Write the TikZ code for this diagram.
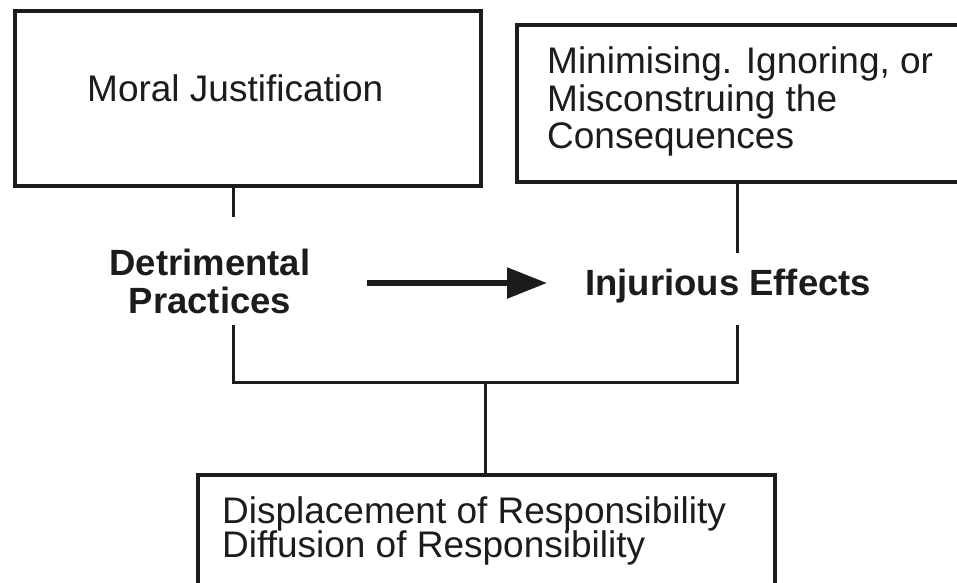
\documentclass[tikz,border=0pt]{standalone}
\usepackage{fontspec}
\setmainfont{Liberation Sans}
\usetikzlibrary{arrows.meta}
\definecolor{ink}{HTML}{1C1C1C}
\tikzset{
  box/.style={draw=ink, line width=4pt, fill=white, inner sep=0pt, anchor=north west},
  txt/.style={inner sep=0pt, anchor=base west, text=ink, font=\fontsize{37}{37}\selectfont},
  btxt/.style={inner sep=0pt, anchor=base, text=ink, font=\fontsize{36.5}{37}\selectfont\bfseries},
  conn/.style={draw=ink, line width=3pt},
  arr/.style={draw=ink, line width=5.5pt, -{Triangle[length=40pt, width=30pt]}}
}
\begin{document}
\begin{tikzpicture}[x=1pt, y=-1pt]
\clip (0,0) rectangle (957,582);
\fill[white] (0,0) rectangle (957,582);
\useasboundingbox (0,0) rectangle (957,582);

% boxes
\node[box, minimum width=466pt, minimum height=175pt] (mj) at (13,9) {};
\node[box, minimum width=460pt, minimum height=157pt] (mc) at (515,23) {};
\node[box, minimum width=577pt, minimum height=110pt] (dr) at (196,473) {};

% box texts
\node[txt] (mjt) at (87,101) {Moral Justification};
\node[txt] (mct1) at (547,73) {Minimising. Ignoring, or};
\node[txt] (mct2) at (547,111) {Misconstruing the};
\node[txt] (mct3) at (547,148) {Consequences};
\node[txt] (drt1) at (222,523) {Displacement of Responsibility};
\node[txt] (drt2) at (222,557) {Diffusion of Responsibility};

% bold labels
\node[btxt] (dp1) at (210,275) {Detrimental};
\node[btxt] (dp2) at (210,313) {Practices};
\node[btxt, anchor=base west] (ie) at (585,295) {Injurious Effects};

% connector points
\coordinate (tl) at (233,217);
\coordinate (tr) at (737,253);
\coordinate (bl) at (233,325);
\coordinate (br) at (737,325);
\coordinate (jn) at (485,382);
\coordinate (as) at (367,283);
\coordinate (ae) at (547,283);

% connectors
\draw[conn] (tl |- mj.south) -- (tl);
\draw[conn] (tr |- mc.south) -- (tr);
\draw[conn] (bl) -- (bl |- jn) -- (jn -| br) -- (br);
\draw[conn] (jn) -- (jn |- dr.north);
\draw[arr] (as) -- (ae);
\end{tikzpicture}
\end{document}
